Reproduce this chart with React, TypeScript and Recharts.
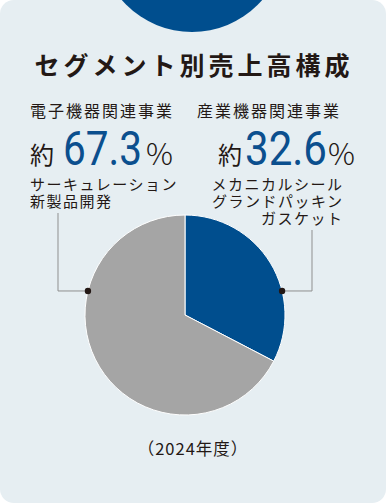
import { PieChart, Pie, Cell } from "recharts";

// segment shares, FY2024
const segments = ["産業機器関連事業", "電子機器関連事業"];
const shares = [32.6, 67.3];
const colors = ["#004e8e", "#a5a5a5"];
const products = [
  ["メカニカルシール", "グランドパッキン", "ガスケット"],
  ["サーキュレーション", "新製品開発"],
];
const title = "セグメント別売上高構成";
const yearLabel = "（2024年度）";

const W = 386;
const H = 503;
const CX = 185;
const CY = 315;
const R = 100;

// leader lines: angle on the rim, elbow x and top y
const leaderAngle = [13.9, 166.1];
const leaderElbowX = [312, 58];
const leaderTopY = [230, 213];

const ink = "#231815";
const numBlue = "#0b4f8e";
const jp = "'Noto Sans CJK JP', 'Noto Sans', sans-serif";

const data = segments.map((name, i) => ({ name, value: shares[i] }));

function Leader(props: any) {
  const { cx, cy, outerRadius, index } = props;
  const a = (leaderAngle[index] * Math.PI) / 180;
  const x = cx + outerRadius * Math.cos(a);
  const y = cy - outerRadius * Math.sin(a);
  const ex = leaderElbowX[index];
  return (
    <g>
      <polyline
        points={`${x},${y} ${ex},${y} ${ex},${leaderTopY[index]}`}
        fill="none"
        stroke="#8f8f8f"
        strokeWidth={1}
      />
      <circle cx={x} cy={y} r={3.2} fill={ink} />
    </g>
  );
}

function Figure({ x, pct, right }: { x: number; pct: number; right?: boolean }) {
  const num = pct.toFixed(1);
  return (
    <g>
      <text x={x} y={164} fontSize={24} fill={ink} fontFamily={jp}>
        約
      </text>
      <text
        x={x + (right ? 27 : 33)}
        y={165}
        fontSize={48}
        fontWeight={400}
        fill={numBlue}
        fontFamily="Roboto, sans-serif"
        textLength={right ? 82 : 79}
        lengthAdjust="spacingAndGlyphs"
      >
        {num}
      </text>
      <text
        x={x + (right ? 110 : 116)}
        y={165}
        fontSize={30}
        fontWeight={300}
        fill={ink}
        fontFamily={jp}
      >
        %
      </text>
    </g>
  );
}

export default function App() {
  return (
    <div style={{ width: W, height: H, position: "relative", background: "#fff" }}>
      <style>{`body{margin:0}`}</style>
      <div
        style={{
          position: "absolute",
          inset: 0,
          background: "#e6eef2",
          borderRadius: 14,
          overflow: "hidden",
        }}
      >
        <PieChart width={W} height={H} margin={{ top: 0, right: 0, bottom: 0, left: 0 }}>
          <Pie
            data={data}
            dataKey="value"
            cx={CX}
            cy={CY}
            outerRadius={R}
            startAngle={90}
            endAngle={-270}
            stroke="#ffffff"
            strokeWidth={1}
            label={Leader}
            labelLine={false}
            isAnimationActive={false}
          >
            {data.map((d, i) => (
              <Cell key={d.name} fill={colors[i]} />
            ))}
          </Pie>
        </PieChart>
        <svg
          width={W}
          height={H}
          style={{ position: "absolute", left: 0, top: 0, pointerEvents: "none" }}
        >
          <circle cx={192} cy={-61} r={93} fill="#004e8e" />
          <text
            x={194}
            y={75}
            textAnchor="middle"
            fontSize={25}
            fontWeight={700}
            letterSpacing={4}
            fill={ink}
            fontFamily={jp}
          >
            {title}
          </text>

          <text x={30} y={116.5} fontSize={16} letterSpacing={2} fill={ink} fontFamily={jp}>
            {segments[1]}
          </text>
          <text x={197} y={116.5} fontSize={16} letterSpacing={2} fill={ink} fontFamily={jp}>
            {segments[0]}
          </text>

          <Figure x={30} pct={shares[1]} />
          <Figure x={218} pct={shares[0]} right />

          {products[1].map((t, i) => (
            <text
              key={t}
              x={30}
              y={189.5 + i * 17}
              fontSize={15}
              letterSpacing={1.5}
              fill={ink}
              fontFamily={jp}
            >
              {t}
            </text>
          ))}
          {products[0].map((t, i) => (
            <text
              key={t}
              x={343.5}
              y={189.5 + i * 17}
              textAnchor="end"
              fontSize={15}
              letterSpacing={1.5}
              fill={ink}
              fontFamily={jp}
            >
              {t}
            </text>
          ))}

          <text
            x={193}
            y={455}
            textAnchor="middle"
            fontSize={16.5}
            letterSpacing={1}
            fill={ink}
            fontFamily={jp}
          >
            {yearLabel}
          </text>
        </svg>
      </div>
    </div>
  );
}
